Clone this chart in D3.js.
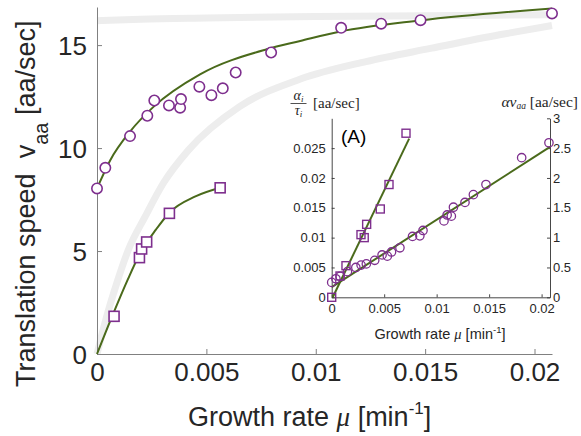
<!DOCTYPE html>
<html>
<head>
<meta charset="utf-8">
<script src="https://cdn.jsdelivr.net/npm/d3@7"></script>
<style>
  html, body { margin: 0; padding: 0; background: #fff; }
  svg { display: block; }
  text { white-space: pre; }
</style>
</head>
<body>
<div id="chart"></div>
<script>
// ---------------- DATA ----------------
// Main panel: translation speed vs growth rate
const mainCircleMu = [0, 0.00038, 0.00151, 0.0023, 0.00262, 0.00329, 0.0038, 0.00384, 0.00468, 0.00523, 0.00575, 0.00634, 0.00796, 0.01116, 0.01299, 0.01479, 0.0208];
const mainCircleV  = [8.04, 9.04, 10.58, 11.57, 12.31, 12.07, 11.96, 12.38, 12.98, 12.57, 12.90, 13.67, 14.64, 15.84, 16.04, 16.21, 16.54];
const mainSquareMu = [0.00078, 0.00194, 0.00204, 0.00227, 0.00331, 0.00563];
const mainSquareV  = [1.83, 4.68, 5.10, 5.44, 6.83, 8.07];
// fitted curves
const fitUpperMu = [0, 0.0006, 0.00151, 0.00258, 0.00471, 0.00776, 0.00929, 0.01112, 0.01478, 0.0208];
const fitUpperV  = [8.04, 9.4, 10.8, 12.0, 13.58, 14.8, 15.2, 15.66, 16.2, 16.78];
const fitLowerMu = [0, 0.0007, 0.0014, 0.002, 0.0027, 0.0033, 0.0045, 0.00563];
const fitLowerV  = [0, 1.85, 3.6, 4.95, 6.05, 6.85, 7.65, 8.07];
// light gray theory bands
const grayTopMu = [0, 0.002, 0.005, 0.01, 0.015, 0.0208];
const grayTopV  = [16.18, 16.26, 16.32, 16.39, 16.43, 16.47];
const grayLowMu = [0, 0.00044, 0.0009, 0.00143, 0.0022, 0.00303, 0.00418, 0.0065, 0.0093, 0.0123, 0.0153, 0.0184, 0.0208];
const grayLowV  = [0, 1.81, 3.43, 5.05, 6.67, 8.29, 9.9, 12.0, 13.35, 14.2, 14.85, 15.5, 15.95];
const mainXTicks = [0, 0.005, 0.01, 0.015, 0.02];
const mainXTickLabels = ["0", "0.005", "0.01", "0.015", "0.02"];
const mainYTicks = [0, 5, 10, 15];
const mainYTickLabels = ["0", "5", "10", "15"];

// Inset (A)
const insetSquareMu = [0, 0.00079, 0.00136, 0.00279, 0.0031, 0.00333, 0.00463, 0.00546, 0.00708];
const insetSquareVal = [0, 0.00357, 0.0053, 0.0105, 0.0100, 0.01223, 0.0148, 0.0189, 0.0275];
const insetCircleMu = [0, 0.0004, 0.0008, 0.0015, 0.0023, 0.0028, 0.0033, 0.0041, 0.0048, 0.0053, 0.0057, 0.0065, 0.0077, 0.0084, 0.0087, 0.0107, 0.0110, 0.0114, 0.0116, 0.0127, 0.0135, 0.0147, 0.0181, 0.0207];
const insetCircleVal = [0.25, 0.31, 0.35, 0.43, 0.50, 0.54, 0.56, 0.62, 0.71, 0.69, 0.76, 0.83, 1.02, 1.03, 1.12, 1.28, 1.38, 1.36, 1.51, 1.59, 1.72, 1.89, 2.34, 2.59];
const insetSqFitMu = [0.0001, 0.00738];
const insetSqFitVal = [0, 0.0266];
const insetCiFitMu = [0, 0.0208];
const insetCiFitVal = [0.17, 2.52];
const insetXTicks = [0, 0.005, 0.01, 0.015, 0.02];
const insetXTickLabels = ["0", "0.005", "0.01", "0.015", "0.02"];
const insetLTicks = [0, 0.005, 0.01, 0.015, 0.02, 0.025];
const insetLTickLabels = ["0", "0.005", "0.01", "0.015", "0.02", "0.025"];
const insetRTicks = [0, 0.5, 1, 1.5, 2, 2.5, 3];
const insetRTickLabels = ["0", "0.5", "1", "1.5", "2", "2.5", "3"];

// ---------------- STYLE ----------------
const W = 581, H = 436;
const PURPLE = "#7E2F8E";
const GREEN = "#4A6A1B";
const GRAY = "#EDEDED";
const TXT = "#262626";
const SANS = "'Liberation Sans', Arial, Helvetica, sans-serif";
const SERIF = "'Liberation Serif', 'DejaVu Serif', serif";

const svg = d3.select("#chart").append("svg")
  .attr("width", W).attr("height", H)
  .attr("viewBox", `0 0 ${W} ${H}`);

// ---------------- MAIN PANEL ----------------
const x = d3.scaleLinear().domain([0, 0.0208]).range([97, 552]);
const y = d3.scaleLinear().domain([0, 16.85]).range([354, 7]);

const zip = (a, b) => a.map((d, i) => [d, b[i]]);
const lineMain = d3.line().x(d => x(d[0])).y(d => y(d[1])).curve(d3.curveMonotoneX);

const gMain = svg.append("g");
// gray bands
gMain.append("path").datum(zip(grayTopMu, grayTopV)).attr("d", lineMain)
  .attr("fill", "none").attr("stroke", GRAY).attr("stroke-width", 7);
gMain.append("path").datum(zip(grayLowMu, grayLowV)).attr("d", lineMain)
  .attr("fill", "none").attr("stroke", GRAY).attr("stroke-width", 7);

// axes
const xAxis = d3.axisBottom(x).tickValues(mainXTicks)
  .tickFormat((d, i) => mainXTickLabels[i]).tickSizeInner(-5).tickSizeOuter(0).tickPadding(9);
const yAxis = d3.axisLeft(y).tickValues(mainYTicks)
  .tickFormat((d, i) => mainYTickLabels[i]).tickSizeInner(-5).tickSizeOuter(0).tickPadding(10);

const gx = gMain.append("g").attr("transform", `translate(0,${y(0)})`).call(xAxis);
const gy = gMain.append("g").attr("transform", `translate(${x(0)},0)`).call(yAxis);
[gx, gy].forEach(g => {
  g.select(".domain").attr("stroke", "#808080").attr("stroke-width", 1);
  g.selectAll(".tick line").attr("stroke", "#808080").attr("stroke-width", 1);
  g.selectAll(".tick text").attr("fill", TXT).attr("font-family", SANS).attr("font-size", 26);
});
gy.selectAll(".tick text").attr("dy", "0.36em");

// fit curves
gMain.append("path").datum(zip(fitUpperMu, fitUpperV)).attr("d", lineMain)
  .attr("fill", "none").attr("stroke", GREEN).attr("stroke-width", 2);
gMain.append("path").datum(zip(fitLowerMu, fitLowerV)).attr("d", lineMain)
  .attr("fill", "none").attr("stroke", GREEN).attr("stroke-width", 2);

// markers
gMain.append("g").selectAll("circle").data(zip(mainCircleMu, mainCircleV)).join("circle")
  .attr("cx", d => x(d[0])).attr("cy", d => y(d[1])).attr("r", 5.2)
  .attr("fill", "#fff").attr("stroke", PURPLE).attr("stroke-width", 1.6);
const sqMain = 10;
gMain.append("g").selectAll("rect").data(zip(mainSquareMu, mainSquareV)).join("rect")
  .attr("x", d => x(d[0]) - sqMain / 2).attr("y", d => y(d[1]) - sqMain / 2)
  .attr("width", sqMain).attr("height", sqMain)
  .attr("fill", "#fff").attr("stroke", PURPLE).attr("stroke-width", 1.6);

// axis labels
const xl = svg.append("text").attr("x", 188).attr("y", 426)
  .attr("font-family", SANS).attr("font-size", 27).attr("fill", TXT);
xl.append("tspan").text("Growth rate ");
xl.append("tspan").attr("font-family", SERIF).attr("font-style", "italic").text("μ");
xl.append("tspan").text(" [min");
xl.append("tspan").attr("font-size", 17).attr("dy", -12).text("-1");
xl.append("tspan").attr("dy", 12).text("]");

const yl = svg.append("text").attr("transform", "translate(35,387) rotate(-90)")
  .attr("font-family", SANS).attr("font-size", 27).attr("fill", TXT);
yl.append("tspan").text("Translation speed  v");
yl.append("tspan").attr("font-size", 20).attr("dy", 13).text("aa");
yl.append("tspan").attr("dy", -13).text(" [aa/sec]");

// ---------------- INSET ----------------
const xi = d3.scaleLinear().domain([0, 0.0208]).range([331.7, 550]);
const yiL = d3.scaleLinear().domain([0, 0.03]).range([297.3, 118.3]);
const yiR = d3.scaleLinear().domain([0, 3]).range([297.3, 118.3]);
const gIn = svg.append("g");

const ixAxis = d3.axisBottom(xi).tickValues(insetXTicks).tickFormat((d, i) => insetXTickLabels[i])
  .tickSizeInner(-3).tickSizeOuter(0).tickPadding(6);
const ilAxis = d3.axisLeft(yiL).tickValues(insetLTicks).tickFormat((d, i) => insetLTickLabels[i])
  .tickSizeInner(-3).tickSizeOuter(0).tickPadding(6);
const irAxis = d3.axisRight(yiR).tickValues(insetRTicks).tickFormat((d, i) => insetRTickLabels[i])
  .tickSizeInner(-3).tickSizeOuter(0).tickPadding(3);
const gix = gIn.append("g").attr("transform", `translate(0,${yiL(0)})`).call(ixAxis);
const gil = gIn.append("g").attr("transform", `translate(${xi(0)},0)`).call(ilAxis);
const gir = gIn.append("g").attr("transform", `translate(${xi(0.0208)},0)`).call(irAxis);
[gix, gil, gir].forEach(g => {
  g.select(".domain").attr("stroke", "#333").attr("stroke-width", 0.9);
  g.selectAll(".tick line").attr("stroke", "#333").attr("stroke-width", 0.9);
  g.selectAll(".tick text").attr("fill", TXT).attr("font-family", SANS).attr("font-size", 13);
});
gix.selectAll(".tick text").attr("dy", "0.72em");

const lineSq = d3.line().x(d => xi(d[0])).y(d => yiL(d[1]));
const lineCi = d3.line().x(d => xi(d[0])).y(d => yiR(d[1]));
gIn.append("path").datum(zip(insetSqFitMu, insetSqFitVal)).attr("d", lineSq)
  .attr("fill", "none").attr("stroke", GREEN).attr("stroke-width", 2);
gIn.append("path").datum(zip(insetCiFitMu, insetCiFitVal)).attr("d", lineCi)
  .attr("fill", "none").attr("stroke", GREEN).attr("stroke-width", 2);

gIn.append("g").selectAll("circle").data(zip(insetCircleMu, insetCircleVal)).join("circle")
  .attr("cx", d => xi(d[0])).attr("cy", d => yiR(d[1])).attr("r", 4.2)
  .attr("fill", "none").attr("stroke", PURPLE).attr("stroke-width", 1.3);
const sqIn = 8;
gIn.append("g").selectAll("rect").data(zip(insetSquareMu, insetSquareVal)).join("rect")
  .attr("x", d => xi(d[0]) - sqIn / 2).attr("y", d => yiL(d[1]) - sqIn / 2)
  .attr("width", sqIn).attr("height", sqIn)
  .attr("fill", "none").attr("stroke", PURPLE).attr("stroke-width", 1.4);

// inset x label
const ixl = svg.append("text").attr("x", 440).attr("y", 339).attr("text-anchor", "middle")
  .attr("font-family", SANS).attr("font-size", 14.5).attr("fill", TXT);
ixl.append("tspan").text("Growth rate ");
ixl.append("tspan").attr("font-family", SERIF).attr("font-style", "italic").text("μ");
ixl.append("tspan").text(" [min");
ixl.append("tspan").attr("font-size", 9.5).attr("dy", -6).text("-1");
ixl.append("tspan").attr("dy", 6).text("]");

// inset left label: fraction alpha_i / tau_i [aa/sec]
const fl = svg.append("g").attr("font-family", SERIF).attr("fill", TXT);
const num = fl.append("text").attr("x", 298.5).attr("y", 100).attr("text-anchor", "middle").attr("font-size", 14);
num.append("tspan").attr("font-style", "italic").text("α");
num.append("tspan").attr("font-style", "italic").attr("font-size", 9).attr("dy", 2).text("i");
fl.append("line").attr("x1", 290.5).attr("x2", 306.5).attr("y1", 103.5).attr("y2", 103.5)
  .attr("stroke", TXT).attr("stroke-width", 0.8);
const den = fl.append("text").attr("x", 298.5).attr("y", 114.5).attr("text-anchor", "middle").attr("font-size", 14);
den.append("tspan").attr("font-style", "italic").text("τ");
den.append("tspan").attr("font-style", "italic").attr("font-size", 9).attr("dy", 2).text("i");
fl.append("text").attr("x", 313).attr("y", 107.5).attr("font-size", 15).text("[aa/sec]");

// inset right label
const rl = svg.append("text").attr("x", 578).attr("y", 106.5).attr("text-anchor", "end")
  .attr("font-family", SERIF).attr("font-size", 15.5).attr("fill", TXT);
rl.append("tspan").attr("font-style", "italic").text("αv");
rl.append("tspan").attr("font-style", "italic").attr("font-size", 9.5).attr("dy", 2).text("aa");
rl.append("tspan").attr("dy", -2).text(" [aa/sec]");

// panel tag
svg.append("text").attr("x", 341).attr("y", 143).attr("font-family", SANS)
  .attr("font-size", 19).attr("fill", "#000").text("(A)");
</script>
</body>
</html>
